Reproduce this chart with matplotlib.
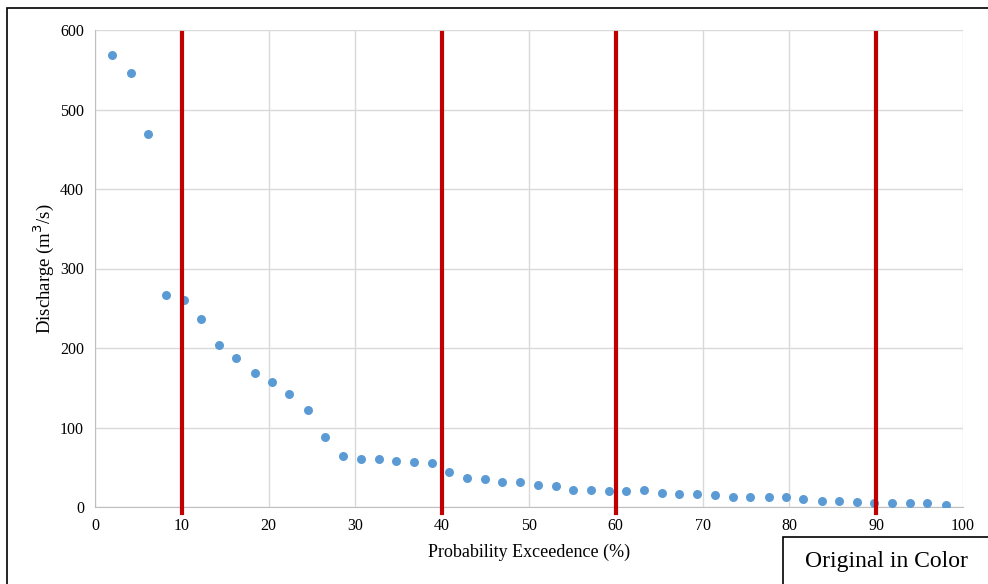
import matplotlib.pyplot as plt
from matplotlib.patches import Rectangle

plt.rcParams['font.family'] = ['Liberation Serif', 'DejaVu Serif']

# Probability of exceedence (%) and discharge (m3/s)
exceedence = [2.0, 4.1, 6.1, 8.2, 10.2, 12.2, 14.3, 16.3, 18.4, 20.4,
              22.4, 24.5, 26.5, 28.6, 30.6, 32.7, 34.7, 36.7, 38.8, 40.8,
              42.9, 44.9, 46.9, 49.0, 51.0, 53.1, 55.1, 57.1, 59.2, 61.2,
              63.3, 65.3, 67.3, 69.4, 71.4, 73.5, 75.5, 77.6, 79.6, 81.6,
              83.7, 85.7, 87.8, 89.8, 91.8, 93.9, 95.9, 98.0]
discharge = [568, 546, 469, 267, 261, 236, 204, 187, 169, 157,
             142, 122, 88, 64, 60, 60, 58, 57, 55, 44,
             36.5, 35, 32, 31, 28, 26.5, 22, 22, 20.5, 20.5,
             21, 17.5, 16, 16.5, 14.5, 13, 13, 12, 12, 10,
             7, 7.5, 6, 4.5, 4.5, 4.5, 4.5, 2.5]
marker_lines = [10, 40, 60, 90]

fig = plt.figure(figsize=(9.88, 5.84), dpi=100)
ax = fig.add_axes([95 / 988, 1 - 507 / 584, 868 / 988, 477 / 584])

ax.scatter(exceedence, discharge, s=42, color='#5B9BD5', zorder=3, linewidths=0)
for xv in marker_lines:
    ax.plot([xv, xv], [-8, 596], color='#C00000', lw=3, zorder=4, clip_on=False)

ax.set_xlim(0, 100)
ax.set_ylim(0, 600)
ax.set_xticks(range(0, 101, 10))
ax.set_yticks(range(0, 601, 100))
ax.grid(True, color='#d9d9d9', lw=1)
ax.set_axisbelow(True)
for s in ['top', 'right']:
    ax.spines[s].set_visible(False)
for s in ['left', 'bottom']:
    ax.spines[s].set_color('#bfbfbf')
ax.tick_params(length=0, labelsize=11.5, pad=8)
ax.set_xlabel('Probability Exceedence (%)', fontsize=13, labelpad=7)
ax.set_ylabel('Discharge (m$^3$/s)', fontsize=13.5, labelpad=3)

# outer frame and caption box
fig.patches.append(Rectangle((7 / 988, -0.05), 1.1, 1.05 - 8 / 584,
                             transform=fig.transFigure, fill=False,
                             edgecolor='black', lw=1.2))
fig.patches.append(Rectangle((783 / 988, -0.05), 0.3, 0.05 + 47 / 584,
                             transform=fig.transFigure, fill=False,
                             edgecolor='black', lw=1.2))
fig.text(886 / 988, 1 - 562 / 584, 'Original in Color', fontsize=17,
         ha='center', va='center')

fig.savefig('out.png', dpi=100)
